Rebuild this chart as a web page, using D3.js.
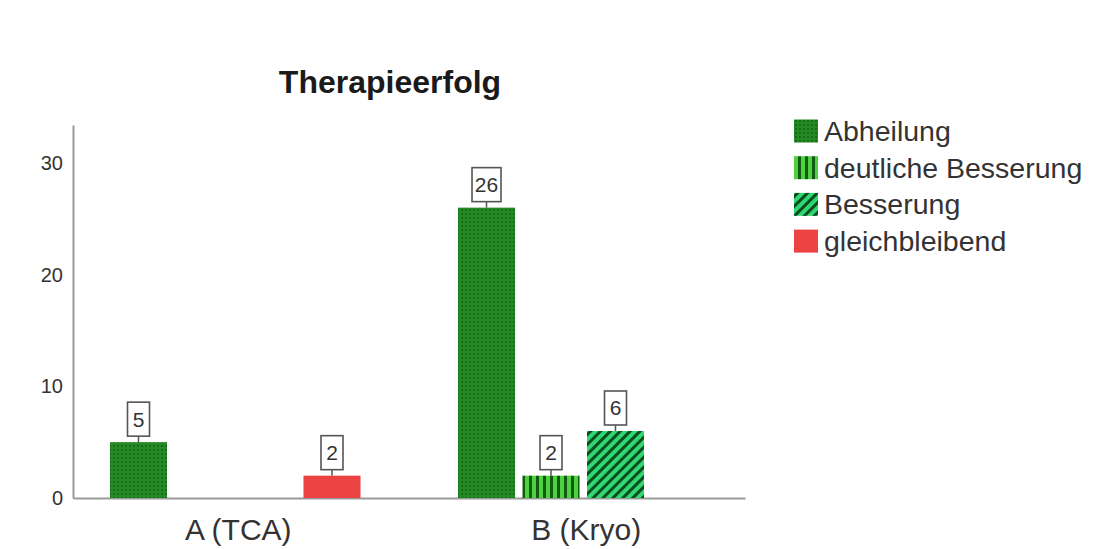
<!DOCTYPE html>
<html><head><meta charset="utf-8">
<script src="https://cdn.jsdelivr.net/npm/d3@7"></script>
<style>body{margin:0;background:#fff;}svg{display:block;font-family:"Liberation Sans",Arial,sans-serif;}</style>
</head><body><svg id="c" width="1102" height="549"></svg>
<script>
const title = "Therapieerfolg";
const categories = ["A (TCA)", "B (Kryo)"];
const seriesNames = ["Abheilung", "deutliche Besserung", "Besserung", "gleichbleibend"];
const valuesA = [5, null, null, 2];
const valuesB = [26, 2, 6, null];
const yTicks = [0, 10, 20, 30];

const svg = d3.select("#c");
const defs = svg.append("defs");

// patterns
const p0 = defs.append("pattern").attr("id","pat0").attr("patternUnits","userSpaceOnUse").attr("width",4).attr("height",4);
p0.append("rect").attr("width",4).attr("height",4).attr("fill","#248a24");
p0.append("rect").attr("x",1).attr("y",1).attr("width",2).attr("height",2).attr("fill","#1a6c1a");
const p1 = defs.append("pattern").attr("id","pat1").attr("patternUnits","userSpaceOnUse").attr("width",7).attr("height",7);
p1.append("rect").attr("width",7).attr("height",7).attr("fill","#4fd23f");
p1.append("rect").attr("x",4).attr("width",3).attr("height",7).attr("fill","#0f5c10");
const p2 = defs.append("pattern").attr("id","pat2").attr("patternUnits","userSpaceOnUse").attr("width",7).attr("height",7).attr("patternTransform","rotate(45)");
p2.append("rect").attr("width",7).attr("height",7).attr("fill","#2fd870");
p2.append("rect").attr("width",3).attr("height",7).attr("fill","#0c4d20");
const fills = ["url(#pat0)","url(#pat1)","url(#pat2)","#ec4242"];

const y = d3.scaleLinear().domain([0, 33.4]).range([498, 125]);
const x0 = d3.scalePoint().domain(categories).range([235.25, 583.25]);
const x1 = d3.scaleBand().domain(seriesNames).range([-125.25, 125.25]).paddingInner(0.116).paddingOuter(0);

// axes
const yAxis = svg.append("g").attr("transform","translate(73,0)")
  .call(d3.axisLeft(y).tickValues(yTicks).tickSize(0).tickPadding(10).tickFormat(d3.format("d")));
yAxis.select(".domain").attr("stroke","#9a9a9a").attr("stroke-width",2);
yAxis.selectAll("text").attr("font-size",20).attr("fill","#333");

const xAxis = svg.append("g").attr("transform","translate(0,498)")
  .call(d3.axisBottom(d3.scaleLinear().domain([0,1]).range([73,745])).ticks(0).tickSize(0));
xAxis.select(".domain").attr("stroke","#9a9a9a").attr("stroke-width",2);

svg.append("g").selectAll("text").data(categories).join("text")
  .attr("x", d=>x0(d)+3).attr("y", 540).attr("text-anchor","middle")
  .attr("font-size",30).attr("fill","#333").text(d=>d);

// bars
const rows = [];
[valuesA, valuesB].forEach((vals, ci) => vals.forEach((v, si) => {
  if (v != null) rows.push({cat: categories[ci], s: seriesNames[si], si, v});
}));
const bars = svg.append("g");
bars.selectAll("rect").data(rows).join("rect")
  .attr("x", d=>x0(d.cat)+x1(d.s)).attr("width", x1.bandwidth())
  .attr("y", d=>y(d.v)).attr("height", d=>y(0)-y(d.v))
  .attr("fill", d=>fills[d.si]);

// data labels
const lab = svg.append("g").selectAll("g").data(rows).join("g")
  .attr("transform", d=>`translate(${x0(d.cat)+x1(d.s)+x1.bandwidth()/2},${y(d.v)})`);
lab.append("line").attr("x1",0).attr("x2",0).attr("y1",0).attr("y2",-6).attr("stroke","#555").attr("stroke-width",1.5);
lab.append("rect")
  .attr("x", d=>-(String(d.v).length>1?14.5:11)).attr("width", d=>String(d.v).length>1?29:22)
  .attr("y",-40).attr("height",34).attr("fill","#fff").attr("stroke","#555").attr("stroke-width",1.6);
lab.append("text").attr("x",0).attr("y",-15.5).attr("text-anchor","middle")
  .attr("font-size",21).attr("fill","#333").text(d=>d.v);

// title
svg.append("text").attr("x",390).attr("y",93).attr("text-anchor","middle")
  .attr("font-size",32).attr("font-weight","bold").attr("fill","#1a1a1a").text(title);

// legend
const leg = svg.append("g").selectAll("g").data(seriesNames).join("g")
  .attr("transform",(d,i)=>`translate(794,${131 + i*36.7})`);
leg.append("rect").attr("x",0).attr("y",-11.5).attr("width",24).attr("height",23).attr("fill",(d,i)=>fills[i]);
leg.append("text").attr("x",30).attr("y",10).attr("font-size",28.5).attr("fill","#333").text(d=>d);
</script></body></html>
